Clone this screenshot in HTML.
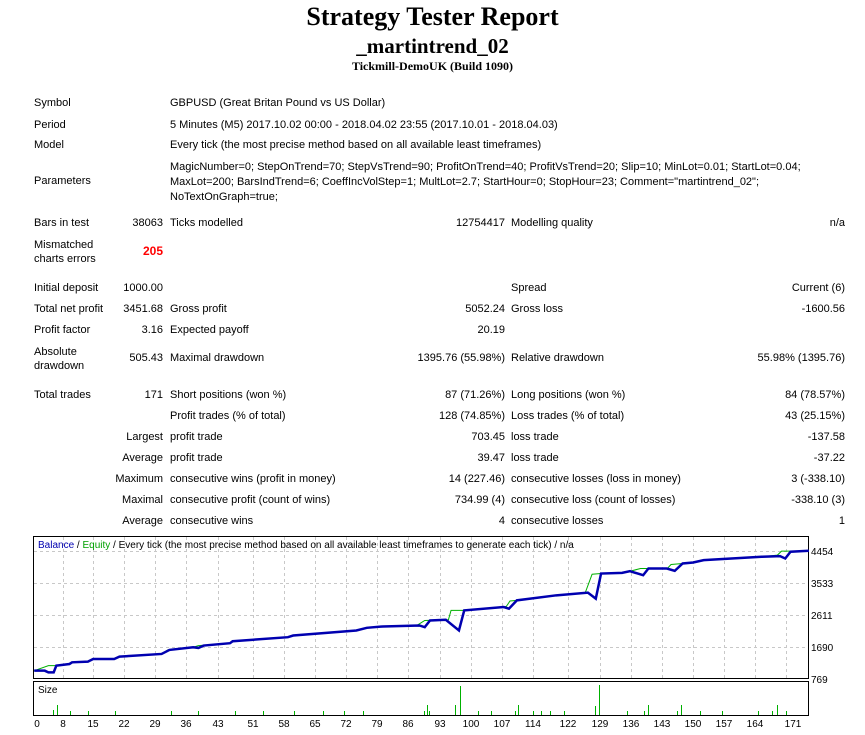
<!DOCTYPE html>
<html><head><meta charset="utf-8"><style>
body{margin:0;width:865px;height:735px;background:#fff;position:relative;overflow:hidden;font-family:"Liberation Sans",sans-serif;font-size:11px;color:#000}
div{position:absolute;white-space:nowrap;line-height:13px}
.t{font-family:"Liberation Serif",serif;font-weight:bold;left:0;width:865px;text-align:center}
.r{text-align:right}
</style></head><body>
<div class="t" style="top:2px;font-size:26px;line-height:30px">Strategy Tester Report</div>
<div class="t" style="top:34px;font-size:21px;line-height:24px">_martintrend_02</div>
<div class="t" style="top:59px;font-size:12px;line-height:14px">Tickmill-DemoUK (Build 1090)</div>

<div style="left:34px;top:97px">Symbol</div><div style="left:170px;top:97px">GBPUSD (Great Britan Pound vs US Dollar)</div>
<div style="left:34px;top:119px">Period</div><div style="left:170px;top:119px">5 Minutes (M5) 2017.10.02 00:00 - 2018.04.02 23:55 (2017.10.01 - 2018.04.03)</div>
<div style="left:34px;top:139px">Model</div><div style="left:170px;top:139px">Every tick (the most precise method based on all available least timeframes)</div>
<div style="left:34px;top:175px">Parameters</div>
<div style="left:170px;top:160px;line-height:15px">MagicNumber=0; StepOnTrend=70; StepVsTrend=90; ProfitOnTrend=40; ProfitVsTrend=20; Slip=10; MinLot=0.01; StartLot=0.04;<br>MaxLot=200; BarsIndTrend=6; CoeffIncVolStep=1; MultLot=2.7; StartHour=0; StopHour=23; Comment="martintrend_02";<br>NoTextOnGraph=true;</div>
<div style="left:34px;top:217px">Bars in test</div><div class="r" style="right:702px;top:217px">38063</div><div style="left:170px;top:217px">Ticks modelled</div><div class="r" style="right:360px;top:217px">12754417</div><div style="left:511px;top:217px">Modelling quality</div><div class="r" style="right:20px;top:217px">n/a</div>
<div style="left:34px;top:238px;line-height:14px">Mismatched<br>charts errors</div><div class="r" style="right:702px;top:245px;color:#f00;font-weight:bold;font-size:12px">205</div>

<div style="left:34px;top:282px">Initial deposit</div><div class="r" style="right:702px;top:282px">1000.00</div><div style="left:511px;top:282px">Spread</div><div class="r" style="right:20px;top:282px">Current (6)</div>
<div style="left:34px;top:303px">Total net profit</div><div class="r" style="right:702px;top:303px">3451.68</div><div style="left:170px;top:303px">Gross profit</div><div class="r" style="right:360px;top:303px">5052.24</div><div style="left:511px;top:303px">Gross loss</div><div class="r" style="right:20px;top:303px">-1600.56</div>
<div style="left:34px;top:324px">Profit factor</div><div class="r" style="right:702px;top:324px">3.16</div><div style="left:170px;top:324px">Expected payoff</div><div class="r" style="right:360px;top:324px">20.19</div>
<div style="left:34px;top:345px;line-height:14px">Absolute<br>drawdown</div><div class="r" style="right:702px;top:352px">505.43</div><div style="left:170px;top:352px">Maximal drawdown</div><div class="r" style="right:360px;top:352px">1395.76 (55.98%)</div><div style="left:511px;top:352px">Relative drawdown</div><div class="r" style="right:20px;top:352px">55.98% (1395.76)</div>

<div style="left:34px;top:389px">Total trades</div><div class="r" style="right:702px;top:389px">171</div><div style="left:170px;top:389px">Short positions (won %)</div><div class="r" style="right:360px;top:389px">87 (71.26%)</div><div style="left:511px;top:389px">Long positions (won %)</div><div class="r" style="right:20px;top:389px">84 (78.57%)</div>
<div style="left:170px;top:410px">Profit trades (% of total)</div><div class="r" style="right:360px;top:410px">128 (74.85%)</div><div style="left:511px;top:410px">Loss trades (% of total)</div><div class="r" style="right:20px;top:410px">43 (25.15%)</div>
<div class="r" style="right:702px;top:431px">Largest</div><div style="left:170px;top:431px">profit trade</div><div class="r" style="right:360px;top:431px">703.45</div><div style="left:511px;top:431px">loss trade</div><div class="r" style="right:20px;top:431px">-137.58</div>
<div class="r" style="right:702px;top:452px">Average</div><div style="left:170px;top:452px">profit trade</div><div class="r" style="right:360px;top:452px">39.47</div><div style="left:511px;top:452px">loss trade</div><div class="r" style="right:20px;top:452px">-37.22</div>
<div class="r" style="right:702px;top:473px">Maximum</div><div style="left:170px;top:473px">consecutive wins (profit in money)</div><div class="r" style="right:360px;top:473px">14 (227.46)</div><div style="left:511px;top:473px">consecutive losses (loss in money)</div><div class="r" style="right:20px;top:473px">3 (-338.10)</div>
<div class="r" style="right:702px;top:494px">Maximal</div><div style="left:170px;top:494px">consecutive profit (count of wins)</div><div class="r" style="right:360px;top:494px">734.99 (4)</div><div style="left:511px;top:494px">consecutive loss (count of losses)</div><div class="r" style="right:20px;top:494px">-338.10 (3)</div>
<div class="r" style="right:702px;top:515px">Average</div><div style="left:170px;top:515px">consecutive wins</div><div class="r" style="right:360px;top:515px">4</div><div style="left:511px;top:515px">consecutive losses</div><div class="r" style="right:20px;top:515px">1</div>

<svg style="position:absolute;left:0;top:0" width="865" height="735">
<rect x="33.5" y="536.5" width="775" height="142" fill="#fff" stroke="#000"/>
<rect x="33.5" y="681.5" width="775" height="34" fill="#fff" stroke="#000"/>
<g stroke="#c8c8c8" stroke-dasharray="3,3" stroke-width="1">
<line x1="34" x2="808" y1="551.5" y2="551.5"/><line x1="34" x2="808" y1="583.5" y2="583.5"/><line x1="34" x2="808" y1="615.5" y2="615.5"/><line x1="34" x2="808" y1="647.5" y2="647.5"/>
<line x1="63.5" x2="63.5" y1="537" y2="678"/><line x1="93.5" x2="93.5" y1="537" y2="678"/><line x1="124.5" x2="124.5" y1="537" y2="678"/><line x1="155.5" x2="155.5" y1="537" y2="678"/><line x1="186.5" x2="186.5" y1="537" y2="678"/><line x1="218.5" x2="218.5" y1="537" y2="678"/><line x1="253.5" x2="253.5" y1="537" y2="678"/><line x1="284.5" x2="284.5" y1="537" y2="678"/><line x1="315.5" x2="315.5" y1="537" y2="678"/><line x1="346.5" x2="346.5" y1="537" y2="678"/><line x1="377.5" x2="377.5" y1="537" y2="678"/><line x1="408.5" x2="408.5" y1="537" y2="678"/><line x1="440.5" x2="440.5" y1="537" y2="678"/><line x1="471.5" x2="471.5" y1="537" y2="678"/><line x1="502.5" x2="502.5" y1="537" y2="678"/><line x1="533.5" x2="533.5" y1="537" y2="678"/><line x1="568.5" x2="568.5" y1="537" y2="678"/><line x1="600.5" x2="600.5" y1="537" y2="678"/><line x1="631.5" x2="631.5" y1="537" y2="678"/><line x1="662.5" x2="662.5" y1="537" y2="678"/><line x1="693.5" x2="693.5" y1="537" y2="678"/><line x1="724.5" x2="724.5" y1="537" y2="678"/><line x1="755.5" x2="755.5" y1="537" y2="678"/><line x1="786.5" x2="786.5" y1="537" y2="678"/>
</g>
<svg x="30" y="530" width="820" height="205" viewBox="0 0 1558 612" preserveAspectRatio="none">
<polyline fill="none" stroke="#00b000" stroke-width="1" vector-effect="non-scaling-stroke" points="8,420 35,405 50,405 75,400 80,395 110,393 120,385 160,385 170,378 250,370 262,358 310,350 320,345 380,338 385,332 490,320 500,315 620,300 640,292 670,288 735,285 750,270 795,268 800,240 825,240 900,230 905,228 912,212 925,210 1000,195 1055,187 1068,132 1085,130 1125,128 1140,123 1160,115 1175,115 1212,113 1218,103 1240,100 1260,97 1280,90 1390,80 1420,75 1428,63 1445,63 1480,62"/>
<polyline fill="none" stroke="#0000b0" stroke-width="2.5" vector-effect="non-scaling-stroke" points="8,420 28,420 35,425 45,425 50,405 75,400 80,395 110,393 120,385 160,385 170,378 250,370 265,358 310,350 320,352 330,345 380,338 385,332 490,320 500,315 620,300 640,292 670,288 740,285 750,290 760,270 790,268 815,300 825,240 900,230 910,235 925,210 1000,195 1060,187 1075,205 1085,130 1125,128 1140,123 1165,135 1175,115 1210,115 1225,122 1240,100 1260,97 1280,90 1390,80 1425,78 1435,85 1445,65 1480,62"/>
</svg>
<g stroke="#00b000" stroke-width="1">
<line x1="53.5" x2="53.5" y1="715" y2="710"/><line x1="57.5" x2="57.5" y1="715" y2="705"/><line x1="70.5" x2="70.5" y1="715" y2="711"/><line x1="88.5" x2="88.5" y1="715" y2="711"/><line x1="115.5" x2="115.5" y1="715" y2="711"/><line x1="171.5" x2="171.5" y1="715" y2="711"/><line x1="198.5" x2="198.5" y1="715" y2="711"/><line x1="235.5" x2="235.5" y1="715" y2="711"/><line x1="263.5" x2="263.5" y1="715" y2="711"/><line x1="294.5" x2="294.5" y1="715" y2="711"/><line x1="323.5" x2="323.5" y1="715" y2="711"/><line x1="344.5" x2="344.5" y1="715" y2="711"/><line x1="363.5" x2="363.5" y1="715" y2="711"/><line x1="429.5" x2="429.5" y1="715" y2="711"/><line x1="424.5" x2="424.5" y1="715" y2="711"/><line x1="427.5" x2="427.5" y1="715" y2="705"/><line x1="460.5" x2="460.5" y1="715" y2="686"/><line x1="455.5" x2="455.5" y1="715" y2="705"/><line x1="478.5" x2="478.5" y1="715" y2="711"/><line x1="491.5" x2="491.5" y1="715" y2="711"/><line x1="515.5" x2="515.5" y1="715" y2="711"/><line x1="518.5" x2="518.5" y1="715" y2="705"/><line x1="533.5" x2="533.5" y1="715" y2="711"/><line x1="541.5" x2="541.5" y1="715" y2="711"/><line x1="550.5" x2="550.5" y1="715" y2="711"/><line x1="564.5" x2="564.5" y1="715" y2="711"/><line x1="595.5" x2="595.5" y1="715" y2="706"/><line x1="599.5" x2="599.5" y1="715" y2="685"/><line x1="627.5" x2="627.5" y1="715" y2="711"/><line x1="644.5" x2="644.5" y1="715" y2="711"/><line x1="648.5" x2="648.5" y1="715" y2="705"/><line x1="677.5" x2="677.5" y1="715" y2="711"/><line x1="681.5" x2="681.5" y1="715" y2="705"/><line x1="700.5" x2="700.5" y1="715" y2="711"/><line x1="722.5" x2="722.5" y1="715" y2="711"/><line x1="758.5" x2="758.5" y1="715" y2="711"/><line x1="772.5" x2="772.5" y1="715" y2="711"/><line x1="777.5" x2="777.5" y1="715" y2="705"/><line x1="786.5" x2="786.5" y1="715" y2="711"/>
</g>
<g font-family="Liberation Sans, sans-serif" font-size="10" fill="#000">
<text x="38" y="548"><tspan fill="#0000b0">Balance</tspan> / <tspan fill="#00a000">Equity</tspan> / Every tick (the most precise method based on all available least timeframes to generate each tick) / n/a</text>
<text x="38" y="693">Size</text>
<text x="811" y="555">4454</text><text x="811" y="587">3533</text><text x="811" y="619">2611</text><text x="811" y="651">1690</text><text x="811" y="683">769</text>
<g text-anchor="middle">
<text x="37" y="727">0</text><text x="63" y="727">8</text><text x="93" y="727">15</text><text x="124" y="727">22</text><text x="155" y="727">29</text><text x="186" y="727">36</text><text x="218" y="727">43</text><text x="253" y="727">51</text><text x="284" y="727">58</text><text x="315" y="727">65</text><text x="346" y="727">72</text><text x="377" y="727">79</text><text x="408" y="727">86</text><text x="440" y="727">93</text><text x="471" y="727">100</text><text x="502" y="727">107</text><text x="533" y="727">114</text><text x="568" y="727">122</text><text x="600" y="727">129</text><text x="631" y="727">136</text><text x="662" y="727">143</text><text x="693" y="727">150</text><text x="724" y="727">157</text><text x="755" y="727">164</text><text x="793" y="727">171</text>
</g></g>
</svg>
</body></html>
